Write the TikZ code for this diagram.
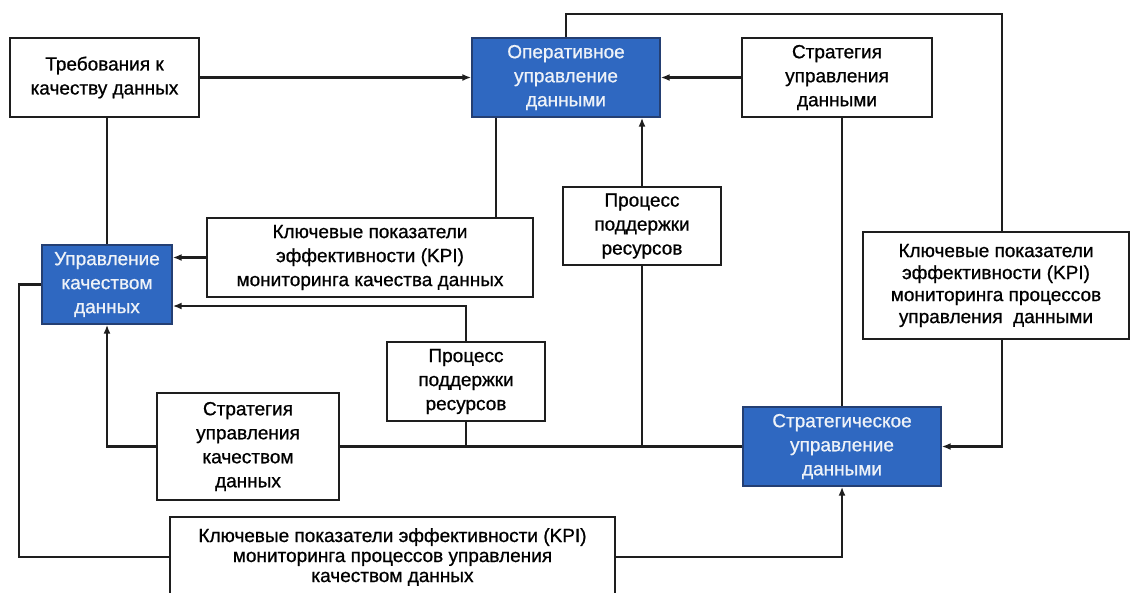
\documentclass[tikz,border=0pt]{standalone}
\usepackage{fontspec}
\setmainfont{Liberation Sans}[FakeBold=0.8]
\newfontfamily\heavyfont{Liberation Sans}[FakeBold=0.8]
\usetikzlibrary{arrows.meta}
\definecolor{boxblue}{HTML}{2F68C1}
\definecolor{boxedge}{HTML}{243F73}
\definecolor{lineink}{HTML}{1E1E1E}
\definecolor{bluetext}{HTML}{EEF2F8}
\tikzset{
  wbox/.style={draw=lineink, line width=2.2pt, fill=white, align=center, inner sep=0pt,
    font=\heavyfont\fontsize{19}{24}\selectfont, text=black},
  bbox/.style={draw=boxedge, line width=1.4pt, fill=boxblue, align=center, inner sep=0pt,
    font=\heavyfont\fontsize{19}{24}\selectfont, text=bluetext},
  conn/.style={draw=lineink, line width=2.2pt},
  arr/.style={conn, -{Latex[length=9pt,width=7pt]}},
}
\begin{document}
\begin{tikzpicture}[x=1pt,y=-1pt]
\useasboundingbox (0,0) rectangle (1131,592);
\fill[white] (0,0) rectangle (1131,592);

\node[wbox, minimum width=189, minimum height=79] (req) at (104.5,77.5) {Требования к\\качеству данных};
\node[bbox, minimum width=188, minimum height=79] (op) at (566,77.5) {Оперативное\\управление\\данными};
\node[wbox, minimum width=190, minimum height=79] (ds) at (837,77.5) {Стратегия\\управления\\данными};
\node[bbox, minimum width=130, minimum height=79] (qm) at (107,284.5) {Управление\\качеством\\данных};
\node[wbox, minimum width=326, minimum height=79] (kqd) at (370,257.5) {Ключевые показатели\\эффективности (KPI)\\мониторинга качества данных};
\node[wbox, minimum width=158, minimum height=78] (pr2) at (642,226) {Процесс\\поддержки\\ресурсов};
\node[wbox, line width=1.5pt, minimum width=266, minimum height=107, font=\heavyfont\fontsize{19}{22}\selectfont] (kdm) at (996,285.5) {Ключевые показатели\\эффективности (KPI)\\мониторинга процессов\\управления~~данными};
\node[wbox, minimum width=158, minimum height=79] (pr1) at (466,381.5) {Процесс\\поддержки\\ресурсов};
\node[wbox, minimum width=182, minimum height=107] (sqd) at (248,446.5) {Стратегия\\управления\\качеством\\данных};
\node[bbox, minimum width=198, minimum height=79] (sm) at (842,446.5) {Стратегическое\\управление\\данными};
\node[wbox, minimum width=445, minimum height=80, font=\heavyfont\fontsize{19}{20}\selectfont] (kqm) at (392.5,557) {Ключевые показатели эффективности (KPI)\\мониторинга процессов управления\\качеством данных};

\coordinate (t2) at (1002,14);

% arrows into operational management
\draw[arr] (req.east) -- (op.west);
\draw[arr] (ds.west) -- (op.east);
\draw[arr] (pr2.north) -- (pr2.north |- op.south);

% loop from operational management to strategic management via KPI box
\draw[conn] (op.north) |- (t2) -- (t2 |- kdm.north);
\draw[arr] (kdm.south -| t2) |- (sm.east);

% strategy of data management to strategic management
\draw[conn] (ds.south -| sm.north) -- (sm.north);

% operational management to KPI quality box
\draw[conn] ([xshift=25pt]op.south west) -- ([xshift=25pt]op.south west |- kqd.north);
\draw[arr] (kqd.west) -- (kqd.west -| qm.east);

% requirements to quality management
\draw[conn] (req.south -| qm.north) -- (qm.north);

% strategic management horizontal bus
\draw[conn] (sm.west) -- (sqd.east);
\draw[conn] (pr2.south) -- (pr2.south |- sm.west);
\draw[conn] (pr1.south) -- (pr1.south |- sm.west);
\draw[arr] (pr1.north) |- ([yshift=-21.5pt]qm.east);
\draw[arr] (sqd.west) -| (qm.south);

% quality management to KPI of quality processes, then to strategic management
\draw[conn] (qm.west) -- ++(-22,0) |- (kqm.west);
\draw[arr] (kqm.east) -| (sm.south);
\end{tikzpicture}
\end{document}
